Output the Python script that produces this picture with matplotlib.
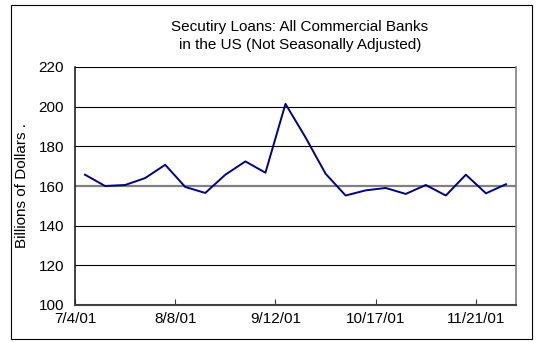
import matplotlib
matplotlib.use("Agg")
import matplotlib.pyplot as plt
from matplotlib.patches import Rectangle
import numpy as np

plt.rcParams['font.family'] = ['Liberation Sans', 'DejaVu Sans']

# weekly observations, 7/4/01 .. 11/28/01
weeks = ['7/4/01', '7/11/01', '7/18/01', '7/25/01', '8/1/01', '8/8/01', '8/15/01',
         '8/22/01', '8/29/01', '9/5/01', '9/12/01', '9/19/01', '9/26/01', '10/3/01',
         '10/10/01', '10/17/01', '10/24/01', '10/31/01', '11/7/01', '11/14/01',
         '11/21/01', '11/28/01']
loans = [165.7, 160.0, 160.5, 164.0, 170.7, 159.5, 156.5, 165.7, 172.4, 166.7,
         201.4, 184.5, 166.2, 155.2, 157.8, 159.0, 156.0, 160.5, 155.2, 165.7,
         156.3, 160.9]
label_every = 5

x = np.arange(len(weeks))

fig = plt.figure(figsize=(5.4, 3.42), dpi=100)
ax = fig.add_axes([75/540, 1 - 305/342, 441/540, 238/342])

# outer chart border
fig.patches.append(Rectangle((11/540, 1 - 339/342), 521/540, 334/342,
                             transform=fig.transFigure, fill=False,
                             edgecolor='black', linewidth=0.8))

for v in [120, 140, 180, 200, 220]:
    ax.axhline(v, color='black', linewidth=0.8, zorder=1)
ax.axhline(160, color='#808080', linewidth=1.6, zorder=1)

ax.plot(x, loans, color='#000080', linewidth=1.4, zorder=3)

ax.set_xlim(-0.5, len(weeks) - 0.5)
ax.set_ylim(100, 220)
ax.set_yticks([100, 120, 140, 160, 180, 200, 220])
ax.tick_params(axis='y', length=0, labelsize=11, pad=8)

tick_pos = np.arange(0, len(weeks), label_every) - 0.5
ax.set_xticks(tick_pos)
ax.set_xticklabels(weeks[::label_every])
ax.tick_params(axis='x', direction='in', length=4, labelsize=11, pad=5,
               color='#404040')

ax.spines['top'].set_visible(False)
ax.spines['right'].set_color('#808080')
ax.spines['left'].set_color('#202020')
ax.spines['bottom'].set_color('#404040')
ax.spines['left'].set_linewidth(1.2)
ax.spines['bottom'].set_linewidth(1.5)
ax.spines['right'].set_linewidth(1.2)

ax.set_ylabel('Billions of Dollars .', fontsize=11, va='center')
ax.yaxis.set_label_coords(-53/441, 0.5)

fig.text(300/540, 1 - 27/342, 'Secutiry Loans: All Commercial Banks',
         ha='center', va='center', fontsize=11)
fig.text(300/540, 1 - 45/342, 'in the US (Not Seasonally Adjusted)',
         ha='center', va='center', fontsize=11)

fig.savefig('out.png', dpi=100)
